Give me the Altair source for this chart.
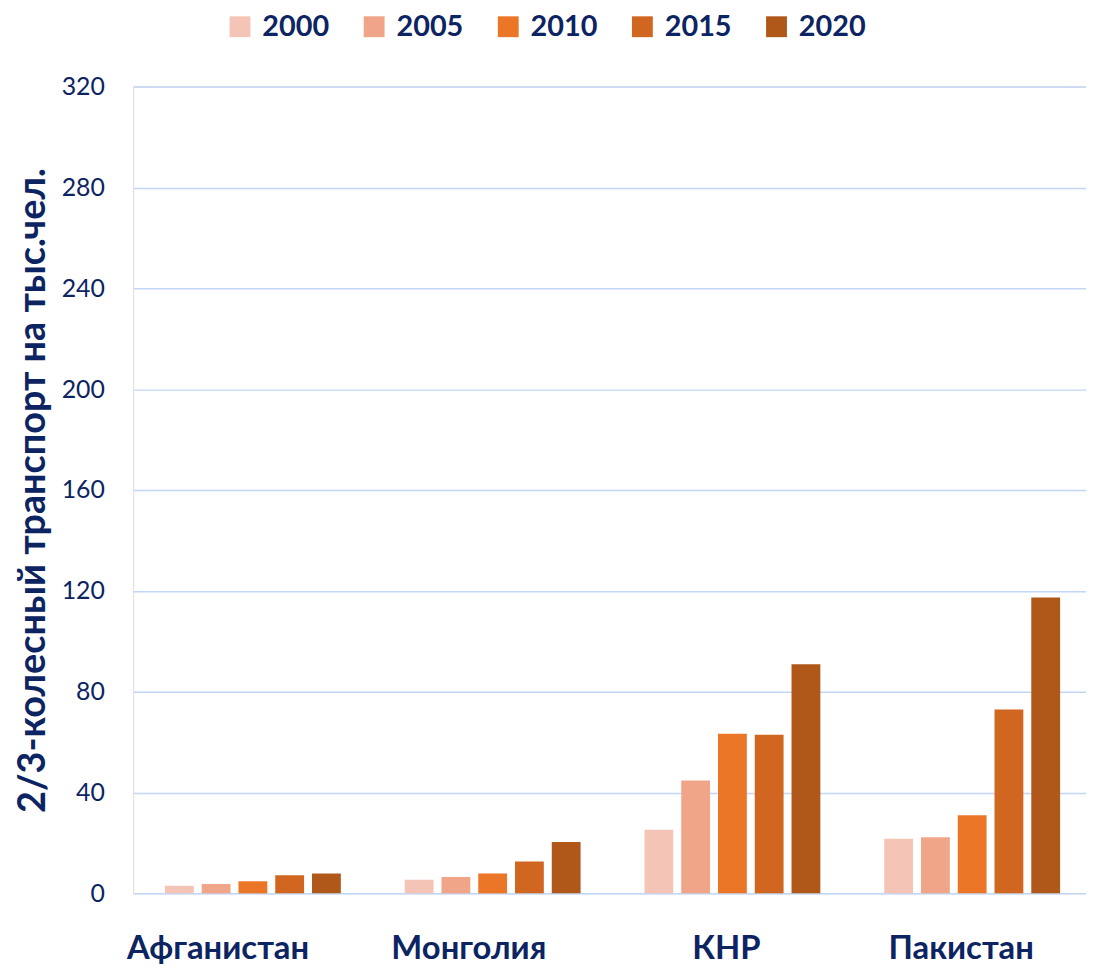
import altair as alt
import pandas as pd

countries = ["Афганистан", "Монголия", "КНР", "Пакистан"]
years = ["2000", "2005", "2010", "2015", "2020"]
v2000 = [3.0, 5.4, 25.2, 21.7]
v2005 = [3.7, 6.5, 44.8, 22.3]
v2010 = [4.8, 7.9, 63.3, 31.0]
v2015 = [7.2, 12.6, 62.9, 72.9]
v2020 = [7.9, 20.4, 90.9, 117.4]
colors = ["#F4C4B6", "#F0A488", "#EB7628", "#D0661F", "#B0581A"]
y_ticks = [0, 40, 80, 120, 160, 200, 240, 280, 320]
# horizontal shift of each category label relative to its group centre
label_shift = [-35, -24, -6, -11]

series = [v2000, v2005, v2010, v2015, v2020]
rows = []
for yr, vals in zip(years, series):
    for c, v in zip(countries, vals):
        rows.append({"country": c, "year": yr, "value": v})
df = pd.DataFrame(rows)

NAVY = "#0C2461"
FONT = "Lato"

label_offset = {
    "condition": [
        {"test": f"datum.value === '{c}'", "value": s}
        for c, s in zip(countries, label_shift)
    ],
    "value": 0,
}

chart = alt.Chart(df).mark_bar().encode(
    x=alt.X("country:N", sort=countries,
            scale=alt.Scale(paddingInner=0.2665, paddingOuter=0.1203, align=0.551),
            axis=alt.Axis(title=None, domain=False, ticks=False, tickSize=0, grid=False,
                          labelFont=FONT, labelFontSize=33, labelFontWeight="bold",
                          labelColor=NAVY, labelBaseline="alphabetic", labelPadding=66,
                          labelAngle=0, labelOffset=label_offset, labelLimit=0,
                          labelOverlap=False)),
    xOffset=alt.XOffset("year:N", sort=years,
                        scale=alt.Scale(paddingInner=0.216, paddingOuter=0)),
    y=alt.Y("value:Q", scale=alt.Scale(domain=[0, 320], nice=False),
            axis=alt.Axis(values=y_ticks, title="2/3-колесный транспорт на тыс.чел.",
                          domain=False, ticks=False, tickSize=0,
                          grid=True, gridColor="#C3D6F5", gridWidth=1.5,
                          labelFont=FONT, labelFontSize=25, labelColor=NAVY,
                          labelPadding=29,
                          titleFont=FONT, titleFontSize=38, titleFontWeight="bold",
                          titleColor=NAVY, titleAngle=270, titleAlign="center",
                          titleBaseline="alphabetic", titleX=-89, titleY=406)),
    color=alt.Color("year:N", sort=years,
                    scale=alt.Scale(domain=years, range=colors),
                    legend=alt.Legend(title=None, orient="none", direction="horizontal",
                                      legendX=93, legendY=-75,
                                      symbolType="square", symbolSize=441,
                                      symbolStrokeWidth=0, symbolOpacity=1,
                                      labelFont=FONT, labelFontSize=29,
                                      labelFontWeight="bold", labelColor=NAVY,
                                      labelOffset=8, columnPadding=30, padding=0)),
).properties(
    width=959,
    height=812,
    autosize=alt.AutoSizeParams(type="none"),
    padding={"left": 126, "top": 76, "right": 0, "bottom": 70},
).configure_view(stroke=None).configure(background="white")

chart.save("out.html", embed_options={"renderer": "svg", "actions": False})
